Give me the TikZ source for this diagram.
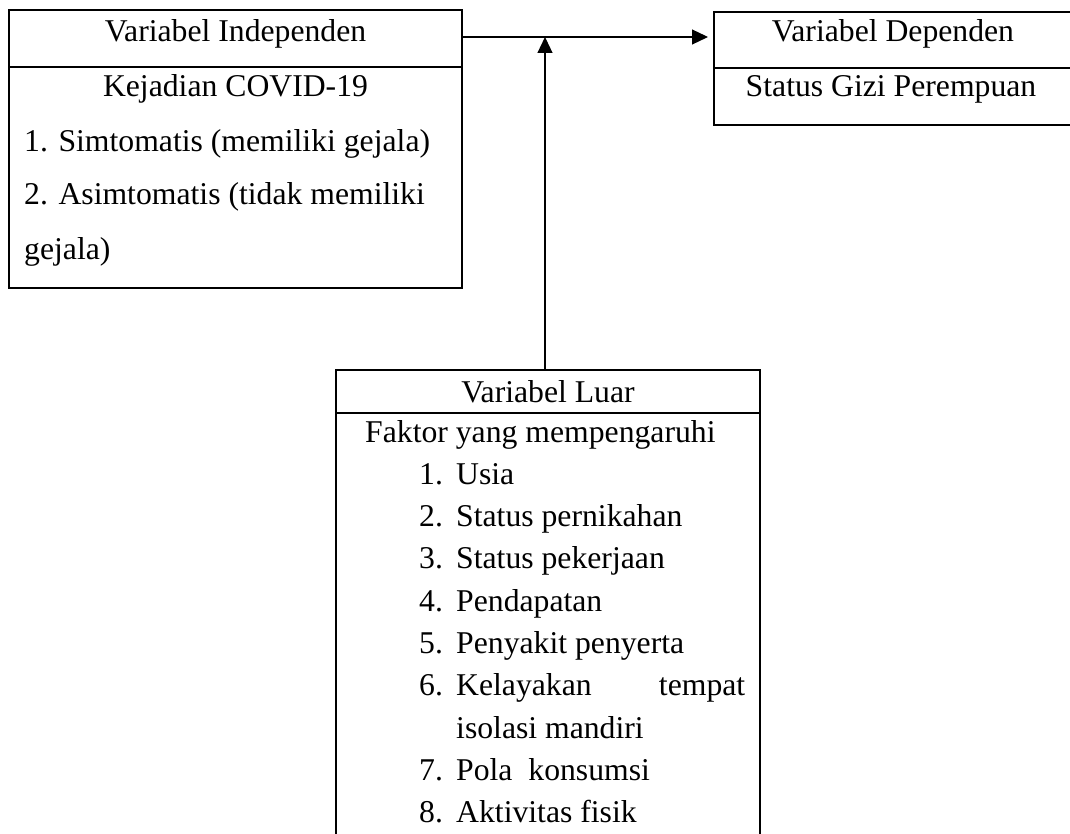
\documentclass[tikz,border=0pt]{standalone}
\usepackage{fontspec}
\setmainfont{Liberation Serif}
\usetikzlibrary{arrows.meta, positioning}

\tikzstyle{box} = [rectangle, draw=black, line width=2.2pt, inner sep=0pt, outer sep=0pt, text centered, font=\fontsize{31.7}{38}\selectfont]
\tikzstyle{txt} = [inner sep=0pt, font=\fontsize{31.7}{38}\selectfont]
\tikzstyle{arrow} = [line width=1.2pt, -{Triangle[length=16pt, width=15pt]}]

\begin{document}
\begin{tikzpicture}[x=1pt, y=-1pt]

    \useasboundingbox (0,0) rectangle (1070,834);
    \clip (0,0) rectangle (1070,834);

    % Variabel Independen
    \node[box, anchor=base, minimum width=453pt, text height=32pt, text depth=25pt] (indepHead) at (235.5,42) {Variabel Independen};
    \node[box, below=0pt of indepHead, minimum width=453pt, minimum height=221pt] (indepBody) {};
    \node[txt, anchor=base] (kejadian) at (235.5,97) {Kejadian COVID-19};
    \node[txt, anchor=base west] (simtomatis) at (24,152) {1. Simtomatis (memiliki gejala)};
    \node[txt, anchor=base west] (asimtomatis) at (24,205) {2. Asimtomatis (tidak memiliki};
    \node[txt, anchor=base west] (gejala) at (24,260) {gejala)};

    % Variabel Dependen
    \node[box, anchor=base, minimum width=358pt, text height=30pt, text depth=26pt] (depHead) at (893,42) {Variabel Dependen};
    \node[box, below=0pt of depHead, minimum width=358pt, minimum height=57pt] (depBody) {};
    \node[txt, anchor=base] (gizi) at (891,97) {Status Gizi Perempuan};

    % Variabel Luar
    \node[box, anchor=base, minimum width=424pt, text height=32pt, text depth=11pt] (luarHead) at (548,402) {Variabel Luar};
    \node[box, below=0pt of luarHead, minimum width=424pt, minimum height=450pt] (luarBody) {};
    \node[txt, anchor=base west] (faktor) at (365,442) {Faktor yang mempengaruhi};
    \node[txt, anchor=base west] (num1) at (419,484.3) {1.};
    \node[txt, anchor=base west] (item1) at (456,484.3) {Usia};
    \node[txt, anchor=base west] (num2) at (419,526.6) {2.};
    \node[txt, anchor=base west] (item2) at (456,526.6) {Status pernikahan};
    \node[txt, anchor=base west] (num3) at (419,568.9) {3.};
    \node[txt, anchor=base west] (item3) at (456,568.9) {Status pekerjaan};
    \node[txt, anchor=base west] (num4) at (419,611.2) {4.};
    \node[txt, anchor=base west] (item4) at (456,611.2) {Pendapatan};
    \node[txt, anchor=base west] (num5) at (419,653.5) {5.};
    \node[txt, anchor=base west] (item5) at (456,653.5) {Penyakit penyerta};
    \node[txt, anchor=base west] (num6) at (419,695.8) {6.};
    \node[txt, anchor=base west] (item6) at (456,695.8) {\makebox[289pt][s]{Kelayakan tempat}};
    \node[txt, anchor=base west] (item6b) at (456,738.1) {isolasi mandiri};
    \node[txt, anchor=base west] (num7) at (419,780.4) {7.};
    \node[txt, anchor=base west] (item7) at (456,780.4) {Pola\ \ konsumsi};
    \node[txt, anchor=base west] (num8) at (419,822.7) {8.};
    \node[txt, anchor=base west] (item8) at (456,822.7) {Aktivitas fisik};

    % Arrows
    \coordinate (meet) at (545,37);
    \draw[arrow, shorten >=6pt] (indepHead.east |- meet) -- (depHead.west |- meet);
    \draw[arrow] (luarHead.north -| meet) -- (meet);

\end{tikzpicture}
\end{document}
